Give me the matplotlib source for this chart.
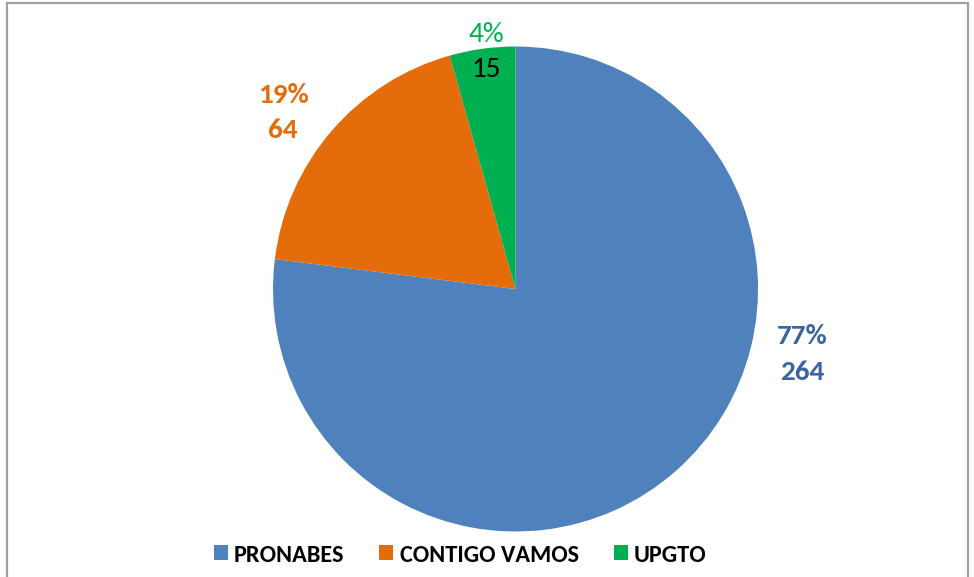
import matplotlib
matplotlib.use("Agg")
import matplotlib.pyplot as plt
from matplotlib.patches import Patch, Rectangle

categories = ["PRONABES", "CONTIGO VAMOS", "UPGTO"]
values = [264, 64, 15]
colors = ["#4F81BD", "#E46C0A", "#00B050"]
pct_labels = ["77%", "19%", "4%"]

W, H = 974, 577
fig = plt.figure(figsize=(W / 100, H / 100), dpi=100)

# chart border
fig.add_artist(Rectangle((7 / W, -0.05), (968 - 7) / W, (H - 3) / H + 0.05,
                         transform=fig.transFigure, fill=False,
                         edgecolor="#A0A0A0", linewidth=1.6))

cx, cy, r = 515.5, 289, 242.5
ax = fig.add_axes([(cx - r) / W, (H - cy - r) / H, 2 * r / W, 2 * r / H])
ax.pie(values, colors=colors, startangle=90, counterclock=False,
       radius=1, wedgeprops=dict(linewidth=0))
ax.set_xlim(-1, 1)
ax.set_ylim(-1, 1)
ax.set_aspect("equal")
ax.axis("off")

fam = ["Carlito", "DejaVu Sans"]
fs = 21
# PRONABES
ax.text(1.182, -0.228, pct_labels[0], ha="center", va="baseline",
        color="#3B64A0", fontsize=fs, fontweight="bold", family=fam)
ax.text(1.182, -0.375, str(values[0]), ha="center", va="baseline",
        color="#3B64A0", fontsize=fs, fontweight="bold", family=fam)
# CONTIGO VAMOS
ax.text(-0.959, 0.766, pct_labels[1], ha="center", va="baseline",
        color="#E46C0A", fontsize=fs, fontweight="bold", family=fam)
ax.text(-0.959, 0.621, str(values[1]), ha="center", va="baseline",
        color="#E46C0A", fontsize=fs, fontweight="bold", family=fam)
# UPGTO
ax.text(-0.119, 1.020, pct_labels[2], ha="center", va="baseline",
        color="#00B050", fontsize=fs, family=fam)
ax.text(-0.119, 0.875, str(values[2]), ha="center", va="baseline",
        color="black", fontsize=fs, family=fam)

handles = [Patch(facecolor=c, edgecolor="none") for c in colors]
leg = fig.legend(handles, categories, loc="center", bbox_to_anchor=(460 / W, 1 - 555 / H),
                 ncol=3, frameon=False, handlelength=0.58, handleheight=0.58,
                 handletextpad=0.25, columnspacing=1.44, borderpad=0, borderaxespad=0,
                 prop=dict(family=fam, weight="bold", size=17.5))

fig.savefig("out.png", dpi=100)
